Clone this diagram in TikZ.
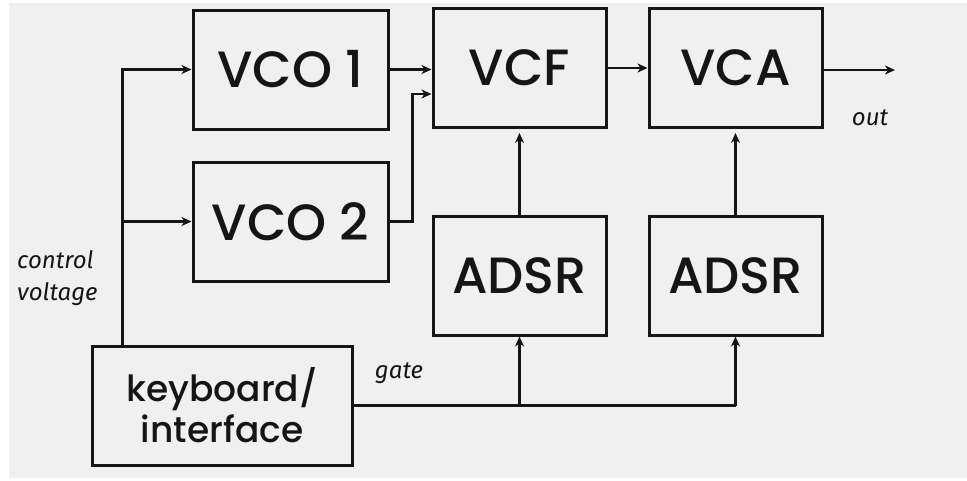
\documentclass[tikz,border=0pt]{standalone}
\usepackage{fontspec}
\usetikzlibrary{arrows.meta}
\setmainfont{Poppins}[UprightFont=* Medium]
\newfontfamily\tagfont{Fira Sans}
\definecolor{paper}{HTML}{F0F0F0}
\definecolor{ink}{HTML}{151515}
\begin{document}
\begin{tikzpicture}[x=1pt,y=-1pt,>={Stealth[length=10pt,width=9pt,inset=3pt]},line width=2.4pt,draw=ink,
  block/.style={draw=ink,line width=3pt,minimum width=#1,minimum height=119pt,inner sep=0pt,
    font=\fontsize{51}{56}\selectfont,text=ink},
  block/.default=173pt,
  tag/.style={font=\tagfont\itshape\fontsize{24}{32}\selectfont,text=ink,inner sep=0pt}]
\useasboundingbox (0,0) rectangle (967,480);
\fill[paper] (9,3) rectangle (967,478);

\node[block=195pt] (vco1) at (290.5,69.5) {VCO 1};
\node[block=195pt] (vco2) at (290.5,221.5) {VCO 2};
\node[block] (vcf) at (519.5,68) {VCF};
\node[block] (vca) at (735.5,68) {VCA};
\node[block] (adsr1) at (519.5,275.5) {ADSR};
\node[block] (adsr2) at (735.5,275.5) {ADSR};
\node[block=260pt,align=center,font=\fontsize{36}{41}\selectfont] (kbd) at (222,405.5) {keyboard/\\interface};

\coordinate (cv) at ([xshift=32pt]kbd.north west);
\coordinate (out) at (895,70);

\draw[->] (cv) |- (vco1);
\draw[->] (cv |- vco2) -- (vco2);
\draw[->] (vco1) -- (vcf.west |- vco1);
\draw[->] (vco2.east) -- ++(23,0) |- ([yshift=-26pt]vcf.west);
\draw[->] (vcf) -- (vca);
\draw[->] (vca.east |- out) -- (out);
\draw[->,shorten >=4pt] (adsr1) -- (vcf);
\draw[->,shorten >=4pt] (adsr2) -- (vca);

\draw (kbd.east) -- (adsr2.south |- kbd.east);
\draw[->] (adsr1.south |- kbd.east) -- (adsr1.south);
\draw[->] (adsr2.south |- kbd.east) -- (adsr2.south);

\node[tag] (outlbl) at (870,118) {out};
\node[tag] (gatelbl) at (399,373) {gate};
\node[tag,anchor=west,align=left] (cvlbl) at (16,278) {control\\voltage};
\end{tikzpicture}
\end{document}
